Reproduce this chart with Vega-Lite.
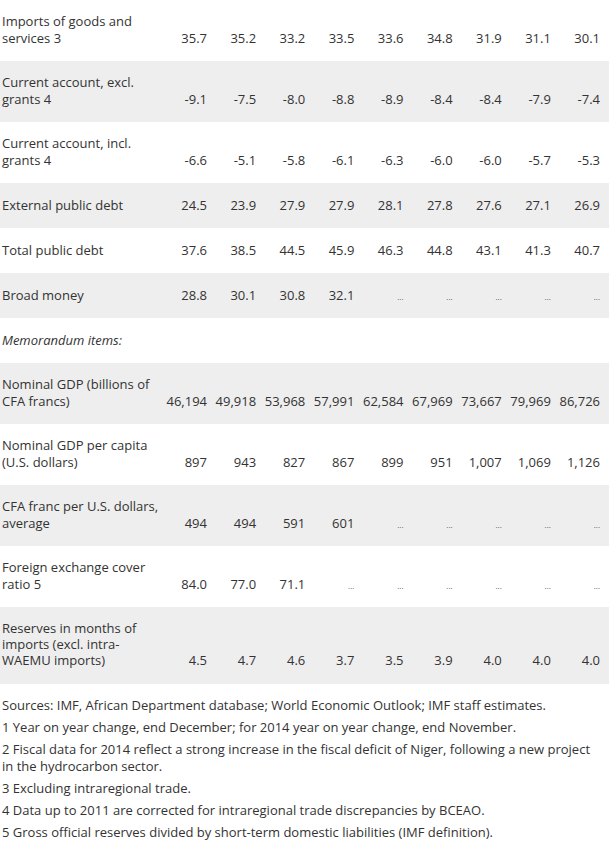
{
"$schema": "https://vega.github.io/schema/vega-lite/v6.json",
"padding": 0,
"spacing": 0,
"bounds": "flush",
"background": "#ffffff",
"config": {
  "view": {"stroke": null},
  "text": {"font": "Open Sans", "fontSize": 13, "color": "#333333"},
  "concat": {"spacing": 0},
  "locale": {"number": {"decimal": ".", "thousands": ",", "grouping": [3], "currency": ["$", ""], "minus": "-"}}
},
"datasets": {
  "labels": [
    {"r": 1, "line": 1, "label": "Imports of goods and"},
    {"r": 1, "line": 2, "label": "services 3"},
    {"r": 2, "line": 1, "label": "Current account, excl."},
    {"r": 2, "line": 2, "label": "grants 4"},
    {"r": 3, "line": 1, "label": "Current account, incl."},
    {"r": 3, "line": 2, "label": "grants 4"},
    {"r": 4, "line": 1, "label": "External public debt"},
    {"r": 5, "line": 1, "label": "Total public debt"},
    {"r": 6, "line": 1, "label": "Broad money"},
    {"r": 7, "line": 1, "label": "Memorandum items:"},
    {"r": 8, "line": 1, "label": "Nominal GDP (billions of"},
    {"r": 8, "line": 2, "label": "CFA francs)"},
    {"r": 9, "line": 1, "label": "Nominal GDP per capita"},
    {"r": 9, "line": 2, "label": "(U.S. dollars)"},
    {"r": 10, "line": 1, "label": "CFA franc per U.S. dollars,"},
    {"r": 10, "line": 2, "label": "average"},
    {"r": 11, "line": 1, "label": "Foreign exchange cover"},
    {"r": 11, "line": 2, "label": "ratio 5"},
    {"r": 12, "line": 1, "label": "Reserves in months of"},
    {"r": 12, "line": 2, "label": "imports (excl. intra-"},
    {"r": 12, "line": 3, "label": "WAEMU imports)"}
  ],
  "values": [
    {"r": 1, "year": "2013", "value": 35.7}, {"r": 1, "year": "2014", "value": 35.2}, {"r": 1, "year": "2015", "value": 33.2}, {"r": 1, "year": "2016", "value": 33.5}, {"r": 1, "year": "2017", "value": 33.6}, {"r": 1, "year": "2018", "value": 34.8}, {"r": 1, "year": "2019", "value": 31.9}, {"r": 1, "year": "2020", "value": 31.1}, {"r": 1, "year": "2021", "value": 30.1},
    {"r": 2, "year": "2013", "value": -9.1}, {"r": 2, "year": "2014", "value": -7.5}, {"r": 2, "year": "2015", "value": -8.0}, {"r": 2, "year": "2016", "value": -8.8}, {"r": 2, "year": "2017", "value": -8.9}, {"r": 2, "year": "2018", "value": -8.4}, {"r": 2, "year": "2019", "value": -8.4}, {"r": 2, "year": "2020", "value": -7.9}, {"r": 2, "year": "2021", "value": -7.4},
    {"r": 3, "year": "2013", "value": -6.6}, {"r": 3, "year": "2014", "value": -5.1}, {"r": 3, "year": "2015", "value": -5.8}, {"r": 3, "year": "2016", "value": -6.1}, {"r": 3, "year": "2017", "value": -6.3}, {"r": 3, "year": "2018", "value": -6.0}, {"r": 3, "year": "2019", "value": -6.0}, {"r": 3, "year": "2020", "value": -5.7}, {"r": 3, "year": "2021", "value": -5.3},
    {"r": 4, "year": "2013", "value": 24.5}, {"r": 4, "year": "2014", "value": 23.9}, {"r": 4, "year": "2015", "value": 27.9}, {"r": 4, "year": "2016", "value": 27.9}, {"r": 4, "year": "2017", "value": 28.1}, {"r": 4, "year": "2018", "value": 27.8}, {"r": 4, "year": "2019", "value": 27.6}, {"r": 4, "year": "2020", "value": 27.1}, {"r": 4, "year": "2021", "value": 26.9},
    {"r": 5, "year": "2013", "value": 37.6}, {"r": 5, "year": "2014", "value": 38.5}, {"r": 5, "year": "2015", "value": 44.5}, {"r": 5, "year": "2016", "value": 45.9}, {"r": 5, "year": "2017", "value": 46.3}, {"r": 5, "year": "2018", "value": 44.8}, {"r": 5, "year": "2019", "value": 43.1}, {"r": 5, "year": "2020", "value": 41.3}, {"r": 5, "year": "2021", "value": 40.7},
    {"r": 6, "year": "2013", "value": 28.8}, {"r": 6, "year": "2014", "value": 30.1}, {"r": 6, "year": "2015", "value": 30.8}, {"r": 6, "year": "2016", "value": 32.1}, {"r": 6, "year": "2017", "value": null}, {"r": 6, "year": "2018", "value": null}, {"r": 6, "year": "2019", "value": null}, {"r": 6, "year": "2020", "value": null}, {"r": 6, "year": "2021", "value": null},
    {"r": 8, "year": "2013", "value": 46194}, {"r": 8, "year": "2014", "value": 49918}, {"r": 8, "year": "2015", "value": 53968}, {"r": 8, "year": "2016", "value": 57991}, {"r": 8, "year": "2017", "value": 62584}, {"r": 8, "year": "2018", "value": 67969}, {"r": 8, "year": "2019", "value": 73667}, {"r": 8, "year": "2020", "value": 79969}, {"r": 8, "year": "2021", "value": 86726},
    {"r": 9, "year": "2013", "value": 897}, {"r": 9, "year": "2014", "value": 943}, {"r": 9, "year": "2015", "value": 827}, {"r": 9, "year": "2016", "value": 867}, {"r": 9, "year": "2017", "value": 899}, {"r": 9, "year": "2018", "value": 951}, {"r": 9, "year": "2019", "value": 1007}, {"r": 9, "year": "2020", "value": 1069}, {"r": 9, "year": "2021", "value": 1126},
    {"r": 10, "year": "2013", "value": 494}, {"r": 10, "year": "2014", "value": 494}, {"r": 10, "year": "2015", "value": 591}, {"r": 10, "year": "2016", "value": 601}, {"r": 10, "year": "2017", "value": null}, {"r": 10, "year": "2018", "value": null}, {"r": 10, "year": "2019", "value": null}, {"r": 10, "year": "2020", "value": null}, {"r": 10, "year": "2021", "value": null},
    {"r": 11, "year": "2013", "value": 84.0}, {"r": 11, "year": "2014", "value": 77.0}, {"r": 11, "year": "2015", "value": 71.1}, {"r": 11, "year": "2016", "value": null}, {"r": 11, "year": "2017", "value": null}, {"r": 11, "year": "2018", "value": null}, {"r": 11, "year": "2019", "value": null}, {"r": 11, "year": "2020", "value": null}, {"r": 11, "year": "2021", "value": null},
    {"r": 12, "year": "2013", "value": 4.5}, {"r": 12, "year": "2014", "value": 4.7}, {"r": 12, "year": "2015", "value": 4.6}, {"r": 12, "year": "2016", "value": 3.7}, {"r": 12, "year": "2017", "value": 3.5}, {"r": 12, "year": "2018", "value": 3.9}, {"r": 12, "year": "2019", "value": 4.0}, {"r": 12, "year": "2020", "value": 4.0}, {"r": 12, "year": "2021", "value": 4.0}
  ],
  "notes": [
    {"n": 1, "line": 1, "text": "Sources: IMF, African Department database; World Economic Outlook; IMF staff estimates."},
    {"n": 2, "line": 1, "text": "1 Year on year change, end December; for 2014 year on year change, end November."},
    {"n": 3, "line": 1, "text": "2 Fiscal data for 2014 reflect a strong increase in the fiscal deficit of Niger, following a new project"},
    {"n": 3, "line": 2, "text": "in the hydrocarbon sector."},
    {"n": 4, "line": 1, "text": "3 Excluding intraregional trade."},
    {"n": 5, "line": 1, "text": "4 Data up to 2011 are corrected for intraregional trade discrepancies by BCEAO."},
    {"n": 6, "line": 1, "text": "5 Gross official reserves divided by short-term domestic liabilities (IMF definition)."}
  ]
},
"vconcat": [
  {"width": 609, "height": 61, "view": {"fill": "#ffffff", "stroke": null},
   "layer": [
    {"data": {"name": "labels"}, "transform": [{"filter": "datum.r == 1"}], "mark": {"type": "text", "align": "left", "baseline": "middle"},
     "encoding": {"x": {"datum": 0, "type": "quantitative", "scale": {"domain": [0, 1], "range": [2, 609]}, "axis": null}, "y": {"field": "line", "type": "ordinal", "scale": {"type": "point", "domain": [1, 2], "range": [22, 39], "padding": 0}, "axis": null}, "text": {"field": "label"}}},
    {"data": {"name": "values"}, "transform": [{"filter": "datum.r == 1 && datum.value != null"}], "mark": {"type": "text", "align": "right", "baseline": "middle"},
     "encoding": {"x": {"field": "year", "type": "ordinal", "scale": {"type": "point", "domain": ["2013","2014","2015","2016","2017","2018","2019","2020","2021"], "range": [207, 600], "padding": 0}, "axis": null}, "y": {"datum": 2, "type": "ordinal"}, "text": {"field": "value", "type": "quantitative", "format": ".1f"}}}
   ], "resolve": {"scale": {"x": "independent"}}},
  {"width": 609, "height": 61, "view": {"fill": "#eeeeee", "stroke": null},
   "layer": [
    {"data": {"name": "labels"}, "transform": [{"filter": "datum.r == 2"}], "mark": {"type": "text", "align": "left", "baseline": "middle"},
     "encoding": {"x": {"datum": 0, "type": "quantitative", "scale": {"domain": [0, 1], "range": [2, 609]}, "axis": null}, "y": {"field": "line", "type": "ordinal", "scale": {"type": "point", "domain": [1, 2], "range": [22, 39], "padding": 0}, "axis": null}, "text": {"field": "label"}}},
    {"data": {"name": "values"}, "transform": [{"filter": "datum.r == 2 && datum.value != null"}], "mark": {"type": "text", "align": "right", "baseline": "middle"},
     "encoding": {"x": {"field": "year", "type": "ordinal", "scale": {"type": "point", "domain": ["2013","2014","2015","2016","2017","2018","2019","2020","2021"], "range": [207, 600], "padding": 0}, "axis": null}, "y": {"datum": 2, "type": "ordinal"}, "text": {"field": "value", "type": "quantitative", "format": ".1f"}}}
   ], "resolve": {"scale": {"x": "independent"}}},
  {"width": 609, "height": 61, "view": {"fill": "#ffffff", "stroke": null},
   "layer": [
    {"data": {"name": "labels"}, "transform": [{"filter": "datum.r == 3"}], "mark": {"type": "text", "align": "left", "baseline": "middle"},
     "encoding": {"x": {"datum": 0, "type": "quantitative", "scale": {"domain": [0, 1], "range": [2, 609]}, "axis": null}, "y": {"field": "line", "type": "ordinal", "scale": {"type": "point", "domain": [1, 2], "range": [22, 39], "padding": 0}, "axis": null}, "text": {"field": "label"}}},
    {"data": {"name": "values"}, "transform": [{"filter": "datum.r == 3 && datum.value != null"}], "mark": {"type": "text", "align": "right", "baseline": "middle"},
     "encoding": {"x": {"field": "year", "type": "ordinal", "scale": {"type": "point", "domain": ["2013","2014","2015","2016","2017","2018","2019","2020","2021"], "range": [207, 600], "padding": 0}, "axis": null}, "y": {"datum": 2, "type": "ordinal"}, "text": {"field": "value", "type": "quantitative", "format": ".1f"}}}
   ], "resolve": {"scale": {"x": "independent"}}},
  {"width": 609, "height": 45, "view": {"fill": "#eeeeee", "stroke": null},
   "layer": [
    {"data": {"name": "labels"}, "transform": [{"filter": "datum.r == 4"}], "mark": {"type": "text", "align": "left", "baseline": "middle"},
     "encoding": {"x": {"datum": 0, "type": "quantitative", "scale": {"domain": [0, 1], "range": [2, 609]}, "axis": null}, "y": {"field": "line", "type": "ordinal", "scale": {"type": "point", "padding": 1}, "axis": null}, "text": {"field": "label"}}},
    {"data": {"name": "values"}, "transform": [{"filter": "datum.r == 4 && datum.value != null"}], "mark": {"type": "text", "align": "right", "baseline": "middle"},
     "encoding": {"x": {"field": "year", "type": "ordinal", "scale": {"type": "point", "domain": ["2013","2014","2015","2016","2017","2018","2019","2020","2021"], "range": [207, 600], "padding": 0}, "axis": null}, "y": {"datum": 1, "type": "ordinal"}, "text": {"field": "value", "type": "quantitative", "format": ".1f"}}}
   ], "resolve": {"scale": {"x": "independent"}}},
  {"width": 609, "height": 45, "view": {"fill": "#ffffff", "stroke": null},
   "layer": [
    {"data": {"name": "labels"}, "transform": [{"filter": "datum.r == 5"}], "mark": {"type": "text", "align": "left", "baseline": "middle"},
     "encoding": {"x": {"datum": 0, "type": "quantitative", "scale": {"domain": [0, 1], "range": [2, 609]}, "axis": null}, "y": {"field": "line", "type": "ordinal", "scale": {"type": "point", "padding": 1}, "axis": null}, "text": {"field": "label"}}},
    {"data": {"name": "values"}, "transform": [{"filter": "datum.r == 5 && datum.value != null"}], "mark": {"type": "text", "align": "right", "baseline": "middle"},
     "encoding": {"x": {"field": "year", "type": "ordinal", "scale": {"type": "point", "domain": ["2013","2014","2015","2016","2017","2018","2019","2020","2021"], "range": [207, 600], "padding": 0}, "axis": null}, "y": {"datum": 1, "type": "ordinal"}, "text": {"field": "value", "type": "quantitative", "format": ".1f"}}}
   ], "resolve": {"scale": {"x": "independent"}}},
  {"width": 609, "height": 45, "view": {"fill": "#eeeeee", "stroke": null},
   "layer": [
    {"data": {"name": "labels"}, "transform": [{"filter": "datum.r == 6"}], "mark": {"type": "text", "align": "left", "baseline": "middle"},
     "encoding": {"x": {"datum": 0, "type": "quantitative", "scale": {"domain": [0, 1], "range": [2, 609]}, "axis": null}, "y": {"field": "line", "type": "ordinal", "scale": {"type": "point", "padding": 1}, "axis": null}, "text": {"field": "label"}}},
    {"data": {"name": "values"}, "transform": [{"filter": "datum.r == 6 && datum.value != null"}], "mark": {"type": "text", "align": "right", "baseline": "middle"},
     "encoding": {"x": {"field": "year", "type": "ordinal", "scale": {"type": "point", "domain": ["2013","2014","2015","2016","2017","2018","2019","2020","2021"], "range": [207, 600], "padding": 0}, "axis": null}, "y": {"datum": 1, "type": "ordinal"}, "text": {"field": "value", "type": "quantitative", "format": ".1f"}}},
    {"data": {"name": "values"}, "transform": [{"filter": "datum.r == 6 && datum.value == null"}], "mark": {"type": "text", "align": "right", "baseline": "alphabetic", "dy": 4, "fontSize": 8, "color": "#555555", "text": "..."},
     "encoding": {"x": {"field": "year", "type": "ordinal", "scale": {"type": "point", "domain": ["2013","2014","2015","2016","2017","2018","2019","2020","2021"], "range": [207, 600], "padding": 0}, "axis": null}, "y": {"datum": 1, "type": "ordinal"}}}
   ], "resolve": {"scale": {"x": "independent"}}},
  {"width": 609, "height": 45, "view": {"fill": "#ffffff", "stroke": null},
   "layer": [
    {"data": {"name": "labels"}, "transform": [{"filter": "datum.r == 7"}], "mark": {"type": "text", "align": "left", "baseline": "middle", "fontStyle": "italic"},
     "encoding": {"x": {"datum": 0, "type": "quantitative", "scale": {"domain": [0, 1], "range": [2, 609]}, "axis": null}, "y": {"field": "line", "type": "ordinal", "scale": {"type": "point", "padding": 1}, "axis": null}, "text": {"field": "label"}}}
   ]},
  {"width": 609, "height": 61, "view": {"fill": "#eeeeee", "stroke": null},
   "layer": [
    {"data": {"name": "labels"}, "transform": [{"filter": "datum.r == 8"}], "mark": {"type": "text", "align": "left", "baseline": "middle"},
     "encoding": {"x": {"datum": 0, "type": "quantitative", "scale": {"domain": [0, 1], "range": [2, 609]}, "axis": null}, "y": {"field": "line", "type": "ordinal", "scale": {"type": "point", "domain": [1, 2], "range": [22, 39], "padding": 0}, "axis": null}, "text": {"field": "label"}}},
    {"data": {"name": "values"}, "transform": [{"filter": "datum.r == 8 && datum.value != null"}], "mark": {"type": "text", "align": "right", "baseline": "middle"},
     "encoding": {"x": {"field": "year", "type": "ordinal", "scale": {"type": "point", "domain": ["2013","2014","2015","2016","2017","2018","2019","2020","2021"], "range": [207, 600], "padding": 0}, "axis": null}, "y": {"datum": 2, "type": "ordinal"}, "text": {"field": "value", "type": "quantitative", "format": ",d"}}}
   ], "resolve": {"scale": {"x": "independent"}}},
  {"width": 609, "height": 61, "view": {"fill": "#ffffff", "stroke": null},
   "layer": [
    {"data": {"name": "labels"}, "transform": [{"filter": "datum.r == 9"}], "mark": {"type": "text", "align": "left", "baseline": "middle"},
     "encoding": {"x": {"datum": 0, "type": "quantitative", "scale": {"domain": [0, 1], "range": [2, 609]}, "axis": null}, "y": {"field": "line", "type": "ordinal", "scale": {"type": "point", "domain": [1, 2], "range": [22, 39], "padding": 0}, "axis": null}, "text": {"field": "label"}}},
    {"data": {"name": "values"}, "transform": [{"filter": "datum.r == 9 && datum.value != null"}], "mark": {"type": "text", "align": "right", "baseline": "middle"},
     "encoding": {"x": {"field": "year", "type": "ordinal", "scale": {"type": "point", "domain": ["2013","2014","2015","2016","2017","2018","2019","2020","2021"], "range": [207, 600], "padding": 0}, "axis": null}, "y": {"datum": 2, "type": "ordinal"}, "text": {"field": "value", "type": "quantitative", "format": ",d"}}}
   ], "resolve": {"scale": {"x": "independent"}}},
  {"width": 609, "height": 61, "view": {"fill": "#eeeeee", "stroke": null},
   "layer": [
    {"data": {"name": "labels"}, "transform": [{"filter": "datum.r == 10"}], "mark": {"type": "text", "align": "left", "baseline": "middle"},
     "encoding": {"x": {"datum": 0, "type": "quantitative", "scale": {"domain": [0, 1], "range": [2, 609]}, "axis": null}, "y": {"field": "line", "type": "ordinal", "scale": {"type": "point", "domain": [1, 2], "range": [22, 39], "padding": 0}, "axis": null}, "text": {"field": "label"}}},
    {"data": {"name": "values"}, "transform": [{"filter": "datum.r == 10 && datum.value != null"}], "mark": {"type": "text", "align": "right", "baseline": "middle"},
     "encoding": {"x": {"field": "year", "type": "ordinal", "scale": {"type": "point", "domain": ["2013","2014","2015","2016","2017","2018","2019","2020","2021"], "range": [207, 600], "padding": 0}, "axis": null}, "y": {"datum": 2, "type": "ordinal"}, "text": {"field": "value", "type": "quantitative", "format": ",d"}}},
    {"data": {"name": "values"}, "transform": [{"filter": "datum.r == 10 && datum.value == null"}], "mark": {"type": "text", "align": "right", "baseline": "alphabetic", "dy": 4, "fontSize": 8, "color": "#555555", "text": "..."},
     "encoding": {"x": {"field": "year", "type": "ordinal", "scale": {"type": "point", "domain": ["2013","2014","2015","2016","2017","2018","2019","2020","2021"], "range": [207, 600], "padding": 0}, "axis": null}, "y": {"datum": 2, "type": "ordinal"}}}
   ], "resolve": {"scale": {"x": "independent"}}},
  {"width": 609, "height": 61, "view": {"fill": "#ffffff", "stroke": null},
   "layer": [
    {"data": {"name": "labels"}, "transform": [{"filter": "datum.r == 11"}], "mark": {"type": "text", "align": "left", "baseline": "middle"},
     "encoding": {"x": {"datum": 0, "type": "quantitative", "scale": {"domain": [0, 1], "range": [2, 609]}, "axis": null}, "y": {"field": "line", "type": "ordinal", "scale": {"type": "point", "domain": [1, 2], "range": [22, 39], "padding": 0}, "axis": null}, "text": {"field": "label"}}},
    {"data": {"name": "values"}, "transform": [{"filter": "datum.r == 11 && datum.value != null"}], "mark": {"type": "text", "align": "right", "baseline": "middle"},
     "encoding": {"x": {"field": "year", "type": "ordinal", "scale": {"type": "point", "domain": ["2013","2014","2015","2016","2017","2018","2019","2020","2021"], "range": [207, 600], "padding": 0}, "axis": null}, "y": {"datum": 2, "type": "ordinal"}, "text": {"field": "value", "type": "quantitative", "format": ".1f"}}},
    {"data": {"name": "values"}, "transform": [{"filter": "datum.r == 11 && datum.value == null"}], "mark": {"type": "text", "align": "right", "baseline": "alphabetic", "dy": 4, "fontSize": 8, "color": "#555555", "text": "..."},
     "encoding": {"x": {"field": "year", "type": "ordinal", "scale": {"type": "point", "domain": ["2013","2014","2015","2016","2017","2018","2019","2020","2021"], "range": [207, 600], "padding": 0}, "axis": null}, "y": {"datum": 2, "type": "ordinal"}}}
   ], "resolve": {"scale": {"x": "independent"}}},
  {"width": 609, "height": 77, "view": {"fill": "#eeeeee", "stroke": null},
   "layer": [
    {"data": {"name": "labels"}, "transform": [{"filter": "datum.r == 12"}], "mark": {"type": "text", "align": "left", "baseline": "middle"},
     "encoding": {"x": {"datum": 0, "type": "quantitative", "scale": {"domain": [0, 1], "range": [2, 609]}, "axis": null}, "y": {"field": "line", "type": "ordinal", "scale": {"type": "point", "domain": [1, 2, 3], "range": [22, 54], "padding": 0}, "axis": null}, "text": {"field": "label"}}},
    {"data": {"name": "values"}, "transform": [{"filter": "datum.r == 12 && datum.value != null"}], "mark": {"type": "text", "align": "right", "baseline": "middle"},
     "encoding": {"x": {"field": "year", "type": "ordinal", "scale": {"type": "point", "domain": ["2013","2014","2015","2016","2017","2018","2019","2020","2021"], "range": [207, 600], "padding": 0}, "axis": null}, "y": {"datum": 3, "type": "ordinal"}, "text": {"field": "value", "type": "quantitative", "format": ".1f"}}}
   ], "resolve": {"scale": {"x": "independent"}}},
  {"width": 609, "height": 11, "data": {"values": []}, "mark": {"type": "text"}, "encoding": {}},
  {"width": 609, "height": 22, "data": {"name": "notes"}, "transform": [{"filter": "datum.n == 1"}], "mark": {"type": "text", "align": "left", "baseline": "middle"},
   "encoding": {"x": {"datum": 0, "type": "quantitative", "scale": {"domain": [0, 1], "range": [2, 609]}, "axis": null}, "text": {"field": "text"}}},
  {"width": 609, "height": 22, "data": {"name": "notes"}, "transform": [{"filter": "datum.n == 2"}], "mark": {"type": "text", "align": "left", "baseline": "middle"},
   "encoding": {"x": {"datum": 0, "type": "quantitative", "scale": {"domain": [0, 1], "range": [2, 609]}, "axis": null}, "text": {"field": "text"}}},
  {"width": 609, "height": 39, "data": {"name": "notes"}, "transform": [{"filter": "datum.n == 3"}], "mark": {"type": "text", "align": "left", "baseline": "middle"},
   "encoding": {"x": {"datum": 0, "type": "quantitative", "scale": {"domain": [0, 1], "range": [2, 609]}, "axis": null}, "y": {"field": "line", "type": "ordinal", "scale": {"type": "point", "domain": [1, 2], "range": [11, 28], "padding": 0}, "axis": null}, "text": {"field": "text"}}},
  {"width": 609, "height": 22, "data": {"name": "notes"}, "transform": [{"filter": "datum.n == 4"}], "mark": {"type": "text", "align": "left", "baseline": "middle"},
   "encoding": {"x": {"datum": 0, "type": "quantitative", "scale": {"domain": [0, 1], "range": [2, 609]}, "axis": null}, "text": {"field": "text"}}},
  {"width": 609, "height": 22, "data": {"name": "notes"}, "transform": [{"filter": "datum.n == 5"}], "mark": {"type": "text", "align": "left", "baseline": "middle"},
   "encoding": {"x": {"datum": 0, "type": "quantitative", "scale": {"domain": [0, 1], "range": [2, 609]}, "axis": null}, "text": {"field": "text"}}},
  {"width": 609, "height": 22, "data": {"name": "notes"}, "transform": [{"filter": "datum.n == 6"}], "mark": {"type": "text", "align": "left", "baseline": "middle"},
   "encoding": {"x": {"datum": 0, "type": "quantitative", "scale": {"domain": [0, 1], "range": [2, 609]}, "axis": null}, "text": {"field": "text"}}}
]
}
